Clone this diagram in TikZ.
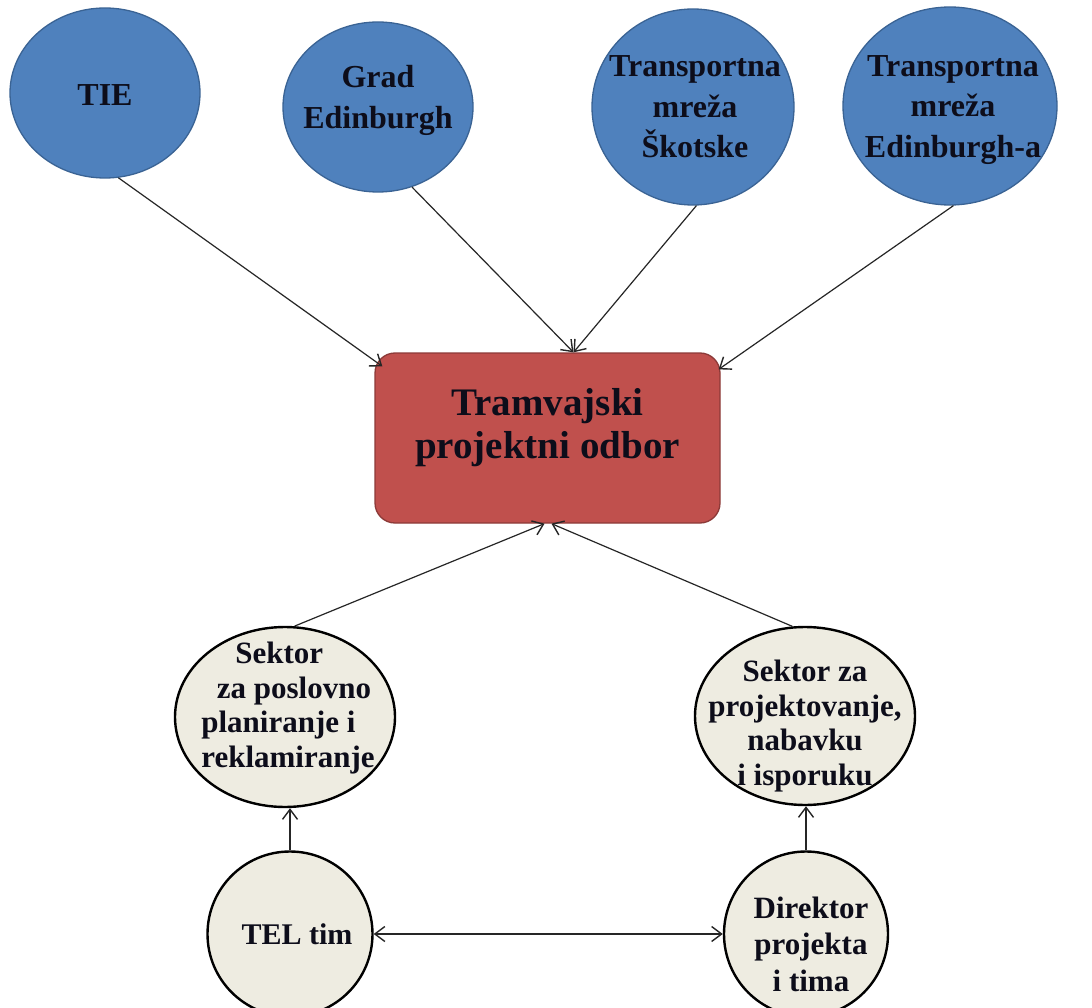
\documentclass[tikz,border=0pt]{standalone}
\usepackage{fontspec}
\setmainfont{Liberation Serif}
\usetikzlibrary{arrows.meta,shapes.geometric,calc}
\definecolor{topblue}{HTML}{4F81BD}
\definecolor{topborder}{HTML}{3A6394}
\definecolor{boxred}{HTML}{C0504D}
\definecolor{boxborder}{HTML}{8C3A38}
\definecolor{beige}{HTML}{EEECE1}
\definecolor{txt}{HTML}{0D0D1A}
\tikzset{
  topell/.style={ellipse, draw=topborder, fill=topblue, line width=1.3pt, inner sep=0pt},
  sectell/.style={ellipse, draw=black, fill=beige, line width=2.4pt, inner sep=0pt},
  boardbox/.style={rectangle, rounded corners=20pt, draw=boxborder, fill=boxred, line width=1.3pt,
    inner sep=0pt, minimum width=345pt, minimum height=170pt},
  toptext/.style={font=\fontsize{32}{40.5}\selectfont\bfseries, text=txt, align=center},
  boardtext/.style={font=\fontsize{39}{43}\selectfont\bfseries, text=txt, align=center},
  secttext/.style={font=\fontsize{31}{34.5}\selectfont\bfseries, text=txt},
  tip/.tip={Straight Barb[length=10pt,width=15pt,line width=1.4pt]},
  arr/.style={draw=black!85, line width=1.2pt, -tip},
  dblarr/.style={draw=black!85, line width=1.2pt, tip-tip}
}
\begin{document}
\begin{tikzpicture}[x=1pt,y=-1pt]
\useasboundingbox[fill=white] (0,0) rectangle (1092,1008);

% top ellipses
\node[topell, minimum width=190pt, minimum height=170pt,
  label={[toptext, yshift=-2pt]center:{TIE}}] (tie) at (105,93) {};
\node[topell, minimum width=190pt, minimum height=170pt,
  label={[toptext, yshift=6.5pt]center:{Grad\\Edinburgh}}] (grad) at (378,107) {};
\node[topell, minimum width=202pt, minimum height=196pt,
  label={[toptext, xshift=2pt]center:{Transportna\\mreža\\Škotske}}] (skot) at (693,107) {};
\node[topell, minimum width=214pt, minimum height=198pt,
  label={[toptext, yshift=-4pt, xshift=3pt]center:{Transportna\\mreža\\Edinburgh-a}}] (edin) at (950,106) {};

% board
\node[boardbox, label={[boardtext, yshift=10pt]center:{Tramvajski\\projektni odbor}}] (box) at (547.5,438) {};

% sectors
\node[sectell, minimum width=220pt, minimum height=180pt,
  label={[secttext, align=left, xshift=3pt, yshift=9pt]center:{\hspace*{1.1em}Sektor\\\hspace*{0.5em}za poslovno\\planiranje i\\reklamiranje}}] (sbiz) at (285,717) {};
\node[sectell, minimum width=220pt, minimum height=178pt,
  label={[secttext, align=center, yshift=-10pt]center:{Sektor za\\projektovanje,\\nabavku\\i isporuku}}] (sproj) at (805,716) {};

% bottom circles
\node[sectell, minimum width=165pt, minimum height=165pt,
  label={[secttext, font=\fontsize{30}{34}\selectfont\bfseries, xshift=7pt]center:{TEL tim}}] (tel) at (290,934) {};
\node[sectell, minimum width=164pt, minimum height=165pt,
  label={[secttext, align=center, font=\fontsize{31}{36.5}\selectfont\bfseries, yshift=-10pt, xshift=5pt]center:{Direktor\\projekta\\i tima}}] (dir) at (806,934) {};

% target points on the board
\coordinate (bTL) at ($(box.north west)+(8,14)$);
\coordinate (bTM) at ($(box.north)+(26,0)$);
\coordinate (bTR) at ($(box.north east)+(-2,17)$);
\coordinate (bBL) at ($(box.south)+(-3,0)$);
\coordinate (bBR) at ($(box.south)+(4,0)$);

% connectors
\draw[arr] (tie.-81) -- (bTL);
\draw[arr] (grad.-67) -- (bTM);
\draw[arr] (skot.-88) -- (bTM);
\draw[arr] (edin.-88) -- (bTR);
\draw[arr] (sbiz.84) -- (bBL);
\draw[arr] (sproj.98) -- (bBR);
\draw[arr] (tel.north) -- (tel.north |- sbiz.south);
\draw[arr] (dir.north) -- (dir.north |- sproj.south);
\draw[dblarr] (tel.east) -- (dir.west);
\end{tikzpicture}
\end{document}
